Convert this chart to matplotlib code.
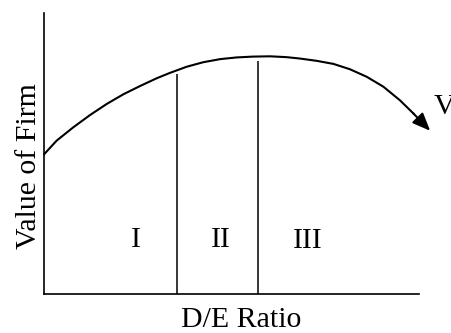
import matplotlib
matplotlib.use("Agg")
import matplotlib.pyplot as plt

# value-of-firm curve (arbitrary 0-10 units)
de_ratio = [0.00, 0.33, 0.77, 1.22, 1.66, 2.11, 2.55, 3.00, 3.35, 3.80, 4.24, 4.69,
            5.13, 5.57, 6.02, 6.46, 6.82, 7.26, 7.71, 8.15, 8.60, 9.04, 9.48, 9.84]
firm_value = [4.99, 5.47, 5.94, 6.38, 6.77, 7.12, 7.41, 7.69, 7.88, 8.10, 8.26, 8.37,
              8.43, 8.46, 8.47, 8.44, 8.39, 8.31, 8.20, 8.01, 7.74, 7.39, 6.91, 6.44]
arrow_tip = (10.29, 5.82)

# boundaries between the three regions
divider_x = [3.55, 5.71]
divider_top = [7.85, 8.29]

region_labels = ["I", "II", "III"]
region_x = [2.44, 4.71, 7.02]
region_y = [1.95, 1.95, 1.88]

plt.rcParams["font.family"] = ["Liberation Serif", "DejaVu Serif"]
fs = 21.5

fig = plt.figure(figsize=(4.51, 3.33), dpi=100)
ax = fig.add_axes([0.0982, 0.1162, 0.8315, 0.8438])
ax.set_xlim(0, 10)
ax.set_ylim(0, 10)

ax.plot(de_ratio, firm_value, color="black", lw=1.5, clip_on=False, solid_joinstyle="round")
ax.annotate("", xy=arrow_tip, xytext=(de_ratio[-1], firm_value[-1]),
            arrowprops=dict(arrowstyle="-|>,head_length=0.6,head_width=0.25",
                            color="black", lw=1.5, mutation_scale=18,
                            shrinkA=0, shrinkB=0),
            annotation_clip=False)
ax.text(arrow_tip[0] + 0.08, 6.65, "V", fontsize=fs, ha="left", va="center", clip_on=False)

ax.vlines(divider_x, 0, divider_top, color="black", lw=1.1)
for lab, x, y in zip(region_labels, region_x, region_y):
    ax.text(x, y, lab, fontsize=fs, ha="center", va="center")

for side in ["top", "right"]:
    ax.spines[side].set_visible(False)
ax.spines["left"].set_linewidth(1.2)
ax.spines["bottom"].set_linewidth(1.2)
ax.set_xticks([])
ax.set_yticks([])
ax.set_xlabel("D/E Ratio", fontsize=fs)
ax.set_ylabel("Value of Firm", fontsize=fs)
ax.xaxis.set_label_coords(0.524, -0.045)
ax.yaxis.set_label_coords(-0.006, 0.457)

fig.savefig("out.png", dpi=100)
